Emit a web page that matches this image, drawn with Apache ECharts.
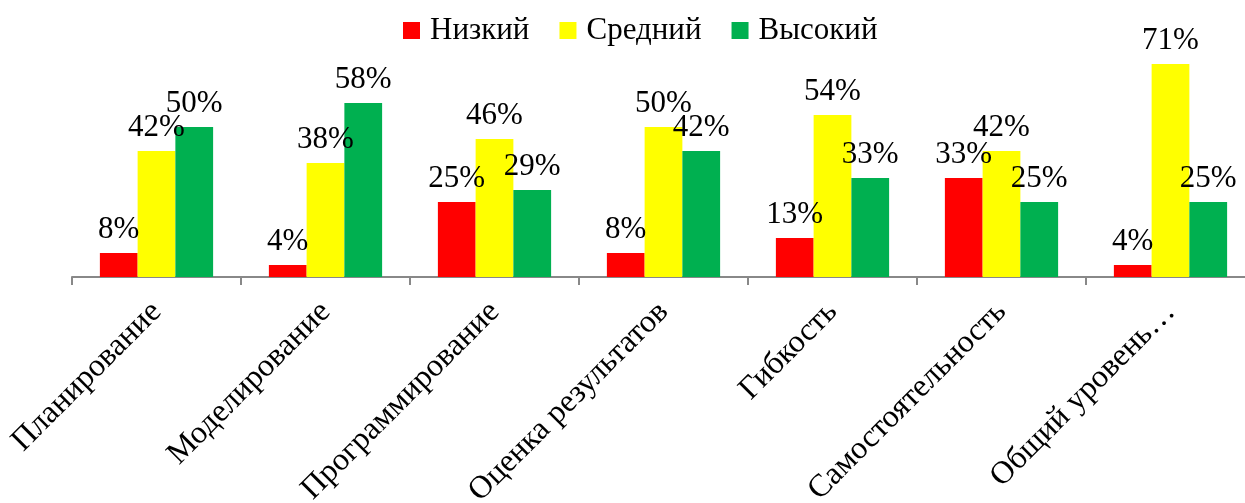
<!DOCTYPE html>
<html>
<head>
<meta charset="utf-8">
<script src="https://cdn.jsdelivr.net/npm/echarts@6/dist/echarts.min.js"></script>
<style>
	html, body { margin: 0; padding: 0; background: #fff; }
	#chart { width: 1245px; height: 503px; }
</style>
</head>
<body>
<div id="chart"></div>
<script>
var categories = ['Планирование', 'Моделирование', 'Программирование', 'Оценка результатов', 'Гибкость', 'Самостоятельность', 'Общий уровень…'];
var lowData = [8, 4, 25, 8, 13, 33, 4];
var midData = [42, 38, 46, 50, 54, 42, 71];
var highData = [50, 58, 29, 42, 33, 25, 25];

var font = 'Liberation Serif';

function makeSeries(name, data, color) {
	return {
		name: name,
		type: 'bar',
		data: data,
		barGap: '0%',
		barCategoryGap: '33%',
		itemStyle: { color: color },
		label: {
			show: true,
			position: 'top',
			distance: 8,
			formatter: '{c}%',
			color: '#000',
			fontFamily: font,
			fontSize: 31
		}
	};
}

var option = {
	animation: false,
	legend: {
		top: 10,
		left: 398,
		itemWidth: 17,
		itemHeight: 17,
		itemGap: 30,
		icon: 'rect',
		textStyle: { fontFamily: font, fontSize: 31, color: '#000', padding: [0, 0, 0, 5] },
		data: ['Низкий', 'Средний', 'Высокий']
	},
	grid: {
		left: 72,
		top: 37,
		width: 1183,
		height: 240,
		containLabel: false,
		outerBoundsMode: 'none'
	},
	xAxis: {
		type: 'category',
		data: categories,
		axisLine: { lineStyle: { color: '#888', width: 2 } },
		axisTick: { show: true, length: 8, lineStyle: { color: '#888', width: 2 } },
		axisLabel: {
			rotate: 45,
			interval: 0,
			margin: 30,
			color: '#000',
			fontFamily: font,
			fontSize: 32
		}
	},
	yAxis: {
		type: 'value',
		min: 0,
		max: 80,
		show: false,
		splitLine: { show: false }
	},
	series: [
		makeSeries('Низкий', lowData, '#ff0000'),
		makeSeries('Средний', midData, '#ffff00'),
		makeSeries('Высокий', highData, '#00b050')
	]
};

echarts.init(document.getElementById('chart')).setOption(option);
</script>
</body>
</html>
